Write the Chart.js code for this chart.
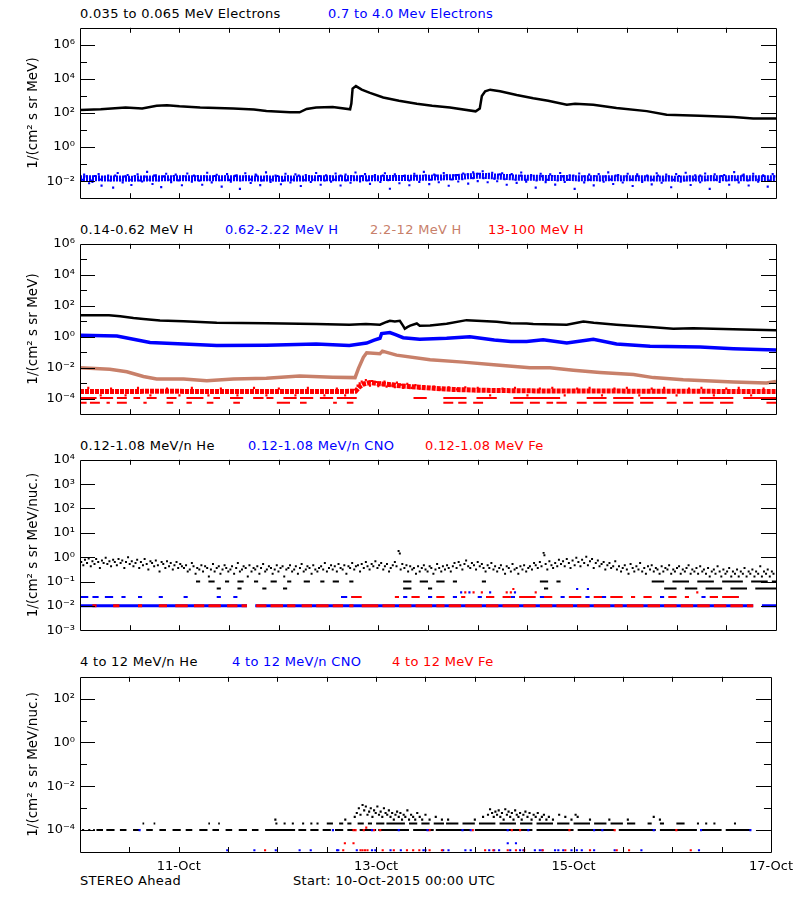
<!DOCTYPE html>
<html><head><meta charset="utf-8">
<script src="https://cdn.jsdelivr.net/npm/chart.js@4"></script>
<style>
body{margin:0;background:#fff;width:800px;height:900px;position:relative;overflow:hidden;font-family:"DejaVu Sans",sans-serif;}
.lbl{position:absolute;font-size:13px;line-height:13px;white-space:nowrap;letter-spacing:0.3px;color:#000;}
canvas{position:absolute;left:0;}
</style></head>
<body>
<div class="lbl" style="left:80px;top:7px">0.035 to 0.065 MeV Electrons</div>
<div class="lbl" style="left:328px;top:7px;color:#0000ff">0.7 to 4.0 Mev Electrons</div>
<div class="lbl" style="left:80px;top:223px">0.14-0.62 MeV H</div>
<div class="lbl" style="left:225px;top:223px;color:#0000ff">0.62-2.22 MeV H</div>
<div class="lbl" style="left:370px;top:223px;color:#c8806a">2.2-12 MeV H</div>
<div class="lbl" style="left:488px;top:223px;color:#ff0000">13-100 MeV H</div>
<div class="lbl" style="left:80px;top:439px">0.12-1.08 MeV/n He</div>
<div class="lbl" style="left:248px;top:439px;color:#0000ff">0.12-1.08 MeV/n CNO</div>
<div class="lbl" style="left:425px;top:439px;color:#ff0000">0.12-1.08 MeV Fe</div>
<div class="lbl" style="left:80px;top:655px">4 to 12 MeV/n He</div>
<div class="lbl" style="left:232px;top:655px;color:#0000ff">4 to 12 MeV/n CNO</div>
<div class="lbl" style="left:392px;top:655px;color:#ff0000">4 to 12 MeV Fe</div>
<div class="lbl" style="left:80px;top:874px">STEREO Ahead</div>
<div class="lbl" style="left:293px;top:874px">Start: 10-Oct-2015 00:00 UTC</div>

<canvas id="c1" width="800" height="196" style="top:15px"></canvas>
<canvas id="c2" width="800" height="196" style="top:231px"></canvas>
<canvas id="c3" width="800" height="196" style="top:447px"></canvas>
<canvas id="c4" width="800" height="228" style="top:664px"></canvas>

<script>
// ---------- axis data ----------
const HOUR_TICKS = [24, 72, 120, 168];
const DAY_LABELS = ['11-Oct', '13-Oct', '15-Oct', '17-Oct'];
const MINOR_HOURS = [12, 24, 36, 48, 60, 72, 84, 96, 108, 120, 132, 144, 156];
const P1_EXP = [-3, -2, -1, 0, 1, 2, 3, 4, 5, 6, 7];
const P2_EXP = [-5, -4, -3, -2, -1, 0, 1, 2, 3, 4, 5, 6];
const P3_EXP = [-3, -2, -1, 0, 1, 2, 3, 4];
const P4_EXP = [-5, -4, -3, -2, -1, 0, 1, 2, 3];

// ---------- panel 1 : electrons ----------
const eLoHours = [0,5,11,15,18.5,21,24,29,37,42,45,50.7,53,54.7,57,61,65.2,65.5,65.8,66.6,68,70,73.2,77,81.3,85,89.3,95.5,96.5,97,97.8,99,101.4,105.4,109.4,113,117.5,119.5,123.9,129.5,136.8,141.6,149.6,157.7,162.5,168];
const eLoFlux  = [148,166,209,182,269,288,245,209,182,158,129,110,110,174,209,224,166,355,2700,3800,2340,1510,813,525,347,263,209,125,182,1000,1900,2340,1900,1150,740,525,302,347,302,195,129,78,68,58,47,47];
const eHiCoreHours = [0,12,24,36,48,60,72,84,90,96,100,106,120,132,144,156,168];
const eHiCoreFlux  = [.015,.014,.015,.015,.014,.015,.015,.016,.017,.021,.019,.016,.015,.015,.014,.015,.015];
const eHiEdge = [[0.6,.012],[1.6,.019],[2.7,.011],[3.6,.02],[4.9,.0125],[6,.018],[7.3,.011],[8.5,.021],[9.7,.0115],[10.9,.019],[12,.012],[13.2,.02],[14.4,.011],[15.6,.0185],[16.8,.0118],[17.9,.021],[19,.011],[20.2,.019],[21.4,.012],[22.6,.02],[23.8,.0112],[25,.0195],[26.3,.012],[27.5,.021],[28.8,.0108],[30,.019],[31.3,.0122],[32.5,.02],[33.7,.0114],[35,.0188],[36.2,.0118],[37.4,.0205],[38.7,.011],[40,.019],[41.3,.0125],[42.6,.021],[43.9,.0112],[45.1,.019],[46.4,.012],[47.7,.02],[49,.0108],[50.2,.0195],[51.5,.012],[52.8,.021],[54,.0115],[55.3,.019],[56.6,.012],[57.8,.02],[59.1,.011],[60.4,.0192],[61.6,.0122],[62.9,.021],[64.2,.0112],[65.5,.0198],[66.8,.012],[68,.02],[69.3,.011],[70.6,.019],[71.9,.0125],[73.1,.021],[74.4,.0115],[75.7,.0195],[77,.012],[78.2,.02],[79.5,.011],[80.8,.0205],[82.1,.0125],[83.4,.022],[84.6,.012],[85.9,.021],[87.2,.013],[88.5,.022],[89.7,.0125],[91,.023],[92.3,.013],[93.6,.025],[94.9,.015],[96.1,.027],[97.4,.015],[98.7,.027],[100,.014],[101.3,.025],[102.5,.013],[103.8,.023],[105.1,.012],[106.4,.021],[107.6,.0118],[108.9,.02],[110.2,.011],[111.5,.0195],[112.7,.012],[114,.02],[115.3,.011],[116.6,.019],[117.8,.0122],[119.1,.021],[120.4,.0112],[121.7,.0195],[122.9,.012],[124.2,.02],[125.5,.011],[126.8,.019],[128,.0125],[129.3,.021],[130.6,.0115],[131.9,.0195],[133.1,.012],[134.4,.02],[135.7,.011],[137,.019],[138.2,.0122],[139.5,.021],[140.8,.0112],[142.1,.0195],[143.3,.012],[144.6,.02],[145.9,.011],[147.2,.019],[148.4,.0125],[149.7,.021],[151,.0115],[152.3,.0195],[153.5,.012],[154.8,.02],[156.1,.011],[157.4,.019],[158.6,.0122],[159.9,.021],[161.2,.0112],[162.5,.0195],[163.7,.012],[165,.02],[166.3,.011],[167.6,.019]];
const eHiScatter = [[1,.024],[2.2,.0075],[3,.009],[4.5,.026],[5.2,.0055],[6.8,.021],[8,.0042],[9.1,.03],[10.3,.0085],[11.5,.023],[12.4,.006],[13.9,.025],[15,.0095],[16.2,.035],[17.5,.0068],[18.3,.022],[19.6,.0045],[20.8,.027],[22,.0088],[23.1,.024],[24.6,.0058],[25.9,.028],[27,.0092],[28.4,.02],[29.5,.0062],[30.7,.031],[31.8,.0085],[33,.0238],[34.2,.0048],[35.5,.026],[36.4,.0093],[37.8,.022],[38.6,.0035],[39.9,.029],[41.2,.0078],[42.4,.024],[43.5,.0059],[44.9,.033],[46,.009],[47.2,.021],[48.5,.0066],[49.6,.027],[50.8,.0083],[52,.025],[53.3,.0052],[54.5,.023],[55.7,.0089],[57,.03],[58.1,.0062],[59.4,.022],[60.6,.0094],[61.7,.028],[62.9,.0056],[64.1,.024],[65.3,.0081],[66.5,.032],[67.6,.0095],[68.8,.026],[70,.0069],[71.2,.023],[72.5,.009],[73.6,.029],[74.8,.0036],[76,.025],[77.1,.0076],[78.4,.021],[79.5,.0058],[80.7,.027],[81.9,.0091],[83,.035],[84.3,.0067],[85.5,.024],[86.6,.0087],[87.8,.03],[89,.0054],[90.2,.022],[91.3,.0095],[92.5,.028],[93.7,.0072],[94.9,.033],[96,.01],[97.2,.038],[98.4,.0086],[99.5,.031],[100.7,.0098],[101.9,.029],[103,.0062],[104.2,.026],[105.4,.0079],[106.5,.032],[107.7,.0092],[108.9,.023],[110,.0042],[111.2,.027],[112.4,.0088],[113.5,.025],[114.7,.0063],[115.9,.03],[117,.009],[118.2,.022],[119.4,.0035],[120.5,.028],[121.7,.0085],[122.9,.024],[124,.0057],[125.2,.026],[126.4,.0093],[127.5,.033],[128.7,.0068],[129.9,.023],[131,.0084],[132.2,.027],[133.4,.0052],[134.5,.025],[135.7,.0089],[136.9,.021],[138,.0065],[139.2,.029],[140.4,.0081],[141.5,.024],[142.7,.0044],[143.9,.026],[145,.0093],[146.2,.031],[147.4,.006],[148.5,.022],[149.7,.0087],[150.9,.028],[152,.0035],[153.2,.025],[154.4,.009],[155.5,.023],[156.7,.0062],[157.9,.034],[159,.0085],[160.2,.024],[161.4,.0056],[162.5,.027],[163.7,.0092],[164.9,.022],[166,.0048],[167.2,.026]];

// ---------- panel 2 : protons ----------
const hLoHours = [0,7,9.7,12.9,15.3,19.3,25,33,45,57,65,69,72.4,74,74.8,76,77.2,78,78.4,79,79.7,81.3,82,84.5,88.5,93.3,97,100.6,104,107.8,109.4,117.5,121.5,124,129.5,137.6,143.2,148,157.7,168];
const hLoFlux  = [24,24,21,16,14,11,10,8,7.4,6.7,6,6.7,6,9,10.7,9.5,10.7,5,3.3,4.2,5.2,7.2,5.2,5.3,6.8,11.8,10.5,9.3,7.5,7.2,6.7,6,9.7,8,6,4.2,3.3,3.6,3,2.6];
const hMidHours = [0,8.9,12.9,16.9,25,33,45,57,65,69.2,71,72.4,72.8,74.8,76,78,82,88.5,94.1,100,104,107.8,111.8,117.5,123.9,129.5,137.6,149.7,157.7,168];
const hMidFlux  = [1.27,1.1,.69,.43,.34,.27,.28,.34,.27,.39,.6,.8,1.6,1.86,1.4,.87,.69,.8,1.0,.62,.5,.49,.63,.39,.69,.34,.24,.22,.17,.14];
const hHiHours = [0,7.2,11.3,15.3,18.5,25,30.6,37,45,53,61,66.4,67.2,68.4,69.2,72.4,73,76.4,84.5,92.5,100.6,108.6,113.4,119.1,125.5,133.6,138.4,145.6,157.7,165.7,168];
const hHiFlux  = [.0098,.008,.0055,.0027,.0019,.00185,.00145,.00185,.0021,.0029,.00245,.0023,.0087,.047,.093,.081,.118,.065,.033,.023,.015,.01,.0098,.0069,.005,.0037,.0023,.00166,.0012,.00105,.0013];
const hTopCoreHours = [0,20,40,60,66.5,67.5,68.5,70,72,75,78,82,86,90,95,100,110,120,130,140,150,160,168];
const hTopCoreFlux  = [2.9e-4,3e-4,2.9e-4,2.9e-4,3e-4,6e-4,9e-4,1.1e-3,9.5e-4,8e-4,6.5e-4,5.5e-4,4.6e-4,4e-4,3.6e-4,3.4e-4,3.2e-4,3.1e-4,3.1e-4,3e-4,3e-4,2.9e-4,2.9e-4];
const hTopScatter = [[2,5e-4],[5,1.65e-4],[7.5,4.5e-4],[11,1.65e-4],[14,5e-4],[17,1.65e-4],[21,4.5e-4],[24,1.65e-4],[27,5e-4],[31,1.65e-4],[34,4.5e-4],[38,1.65e-4],[42,5e-4],[45,1.65e-4],[48,4.5e-4],[52,1.65e-4],[55,5e-4],[59,1.65e-4],[62,4.5e-4],[64,1.65e-4],[67,7e-4],[67.5,1e-3],[68,1.3e-3],[68.5,8e-4],[69,1.6e-3],[69.5,1.2e-3],[70,7e-4],[70.5,1.4e-3],[71,9e-4],[71.5,1.2e-3],[72,6.5e-4],[72.5,1.1e-3],[73,8e-4],[73.5,1.3e-3],[74,6e-4],[74.5,1e-3],[75,7e-4],[75.5,9e-4],[76,5.5e-4],[76.5,1.1e-3],[77,6e-4],[77.5,8e-4],[78,5e-4],[79,9e-4],[80,5e-4],[81,7.5e-4],[82,4.5e-4],[83,6.5e-4],[84,4.5e-4],[85.5,6e-4],[87,4e-4],[89,5.5e-4],[91,4e-4],[93,5.5e-4],[96,5e-4],[99,1.65e-4],[102,4.5e-4],[105,5e-4],[108,1.65e-4],[111,4.5e-4],[114,5e-4],[117,1.65e-4],[120,4.5e-4],[123,5e-4],[126,1.65e-4],[129,4.5e-4],[132,5e-4],[135,1.65e-4],[138,4.5e-4],[141,5e-4],[144,1.65e-4],[147,4.5e-4],[150,5e-4],[153,1.65e-4],[156,4.5e-4],[159,5e-4],[162,1.65e-4],[165,4.5e-4]];
const hTopLevel2 = 1.1e-4;
const hTopLevel2Runs = [[0.1,4],[4.8,8],[8.9,11.3],[12.9,14.5],[16.1,18.5],[20.9,23.3],[25.7,29.8],[32.2,33.8],[36.2,39.4],[41.8,44.3],[45,46.7],[49.1,52.3],[53.1,56.3],[57.9,61.1],[62,66.8],[80.5,83.7],[87.7,93.3],[95.7,100.6],[104.6,115.9],[122.3,127.1],[128.7,133.6],[135.2,141.6],[149.6,157.7],[160.1,168]];
const hTopLevel1 = 5.5e-5;
const hTopLevel1Runs = [[0.1,1.6],[2.4,4.8],[6.4,7.2],[8.9,11.3],[15.3,16.1],[20.9,22.5],[25.7,27],[30.6,32.2],[37,38.6],[47.5,50.7],[53.1,54.7],[61.1,62],[64.4,66],[87.7,90.1],[91.3,93.3],[94.9,97.3],[103.8,107],[108.6,111],[112.6,114.2],[115,117.5],[119.9,122.3],[123.9,127.1],[128.7,133.6],[135.2,138.4],[141.6,144],[145.6,148],[149.6,152.9],[154.5,157.7],[165.7,168]];

// ---------- panel 3 : 0.12-1.08 MeV/n ions ----------
const heLowPts = [[0.3,.63],[0.8,.47],[1.2,.78],[1.7,.57],[2.1,.89],[2.6,.42],[3,.68],[3.5,.52],[3.9,.84],[4.4,.63],[4.8,.36],[5.3,.73],[5.7,.57],[6.2,.94],[6.6,.52],[7.1,.68],[7.5,.42],[8,.78],[8.4,.63],[8.9,.47],[9.3,.84],[9.8,.57],[10.2,.73],[10.7,.36],[11.1,.63],[11.6,.99],[12,.52],
[12.5,.68],[12.9,.42],[13.4,.57],[13.8,.78],[14.3,.36],[14.7,.63],[15.2,.47],[15.6,.84],[16.1,.52],[16.5,.31],[17,.68],[17.4,.57],[17.9,.42],[18.3,.73],[18.8,.47],[19.2,.26],[19.7,.63],[20.1,.52],[20.6,.36],[21,.68],[21.5,.42],[21.9,.57],[22.4,.31],[22.8,.47],[23.3,.63],[23.7,.36],[24.2,.52],[24.6,.42],
[25.1,.36],[25.6,.47],[26,.26],[26.5,.31],[27,.57],[27.4,.42],[27.9,.21],[28.3,.36],[28.8,.31],[29.3,.47],[29.7,.26],[30.2,.42],[30.7,.36],[31.1,.16],[31.6,.31],[32.1,.52],[32.5,.26],[33,.36],[33.5,.42],[33.9,.21],[34.4,.31],[34.9,.47],[35.3,.36],[35.8,.26],[36.3,.31],[36.7,.42],[37.2,.21],[37.7,.36],[38.1,.57],[38.6,.26],[39.1,.31],[39.5,.42],[40,.36],[40.5,.16],[40.9,.47],[41.4,.26],[41.9,.36],[42.3,.31],[42.8,.42],[43.3,.21],[43.7,.36],[44.2,.52],[44.7,.26],[45.1,.31],[45.6,.42],[46.1,.36],[46.5,.21],[47,.31],[47.5,.47],[47.9,.26],[48.4,.36],[48.9,.42],[49.3,.16],[49.8,.31],[50.3,.36],[50.7,.47],[51.2,.26],[51.7,.31],[52.1,.42],[52.6,.21],[53.1,.36],[53.5,.52],[54,.26],[54.5,.31],[54.9,.42],[55.4,.36],[55.9,.21],[56.3,.47],[56.8,.31],[57.3,.26],[57.7,.36],[58.2,.42],[58.7,.31],[59.1,.57],[59.6,.26],
[60.1,.36],[60.6,.47],[61,.31],[61.5,.42],[62,.26],[62.4,.52],[62.9,.36],[63.4,.31],[63.8,.47],[64.3,.21],[64.8,.42],[65.2,.36],[65.7,.57],[66.2,.31],[66.6,.42],[67.1,.47],[67.6,.26],[68,.52],[68.5,.36],[69,.63],[69.4,.42],
[69.9,.31],[70.4,.52],[70.8,.42],[71.3,.68],[71.8,.36],[72.2,.47],[72.7,.57],[73.2,.31],[73.6,.42],[74.1,.52],[74.6,.26],[75,.36],[75.5,.47],[76,.63],[76.4,.42],[76.9,1.8],[77.2,1.4],[77.4,.31],[77.8,.52],[78.3,.36],[78.8,.47],[79.2,.26],[79.7,.42],
[80.2,.31],[80.6,.36],[81.1,.21],[81.6,.42],[82,.26],[82.5,.36],[83,.47],[83.4,.31],[83.9,.26],[84.4,.42],[84.8,.36],[85.3,.21],[85.8,.31],[86.2,.52],[86.7,.36],[87.2,.26],[87.6,.42],[88.1,.31],[88.6,.47],[89,.36],[89.5,.26],
[90,.42],[90.4,.57],[90.9,.36],[91.4,.63],[91.8,.47],[92.3,.31],[92.8,.52],[93.2,.73],[93.7,.42],[94.2,.36],[94.6,.57],[95.1,.47],[95.6,.31],[96,.63],[96.5,.42],[97,.52],[97.4,.36],[97.9,.26],[98.4,.47],[98.8,.36],[99.3,.57],[99.8,.31],
[100.2,.42],[100.7,.26],[101.2,.36],[101.6,.47],[102.1,.31],[102.6,.21],[103,.42],[103.5,.36],[104,.26],[104.4,.52],[104.9,.31],[105.4,.36],[105.8,.21],[106.3,.42],[106.8,.31],[107.2,.47],[107.7,.26],[108.2,.36],[108.6,.42],[109.1,.31],[109.6,.57],
[110,.47],[110.5,.36],[111,.63],[111.4,.42],[111.9,1.5],[112.1,1.2],[112.4,.52],[112.8,.31],[113.3,.68],[113.8,.47],[114.2,.36],[114.7,.57],[115.2,.42],[115.6,.78],
[116.1,.52],[116.6,.68],[117,.42],[117.5,.84],[118,.57],[118.4,.36],[118.9,.73],[119.4,.47],[119.8,.94],[120.3,.63],[120.8,.42],[121.2,.78],[121.7,.57],[122.2,1.05],[122.6,.47],[123.1,.68],[123.6,.84],[124,.36],[124.5,.57],[125,.73],[125.4,.42],[125.9,.52],[126.4,.63],[126.8,.31],[127.3,.47],[127.8,.57],[128.2,.36],[128.7,.42],[129.2,.68],[129.6,.31],
[130.1,.42],[130.6,.26],[131,.36],[131.5,.47],[132,.31],[132.4,.21],[132.9,.52],[133.4,.36],[133.8,.26],[134.3,.42],[134.8,.31],[135.2,.57],[135.7,.26],[136.2,.36],[136.6,.21],[137.1,.42],[137.6,.31],[138,.47],[138.5,.26],[139,.36],[139.4,.31],[139.9,.21],[140.4,.42],[140.8,.26],[141.3,.36],[141.8,.31],[142.2,.47],[142.7,.21],[143.2,.31],[143.6,.26],[144.1,.36],[144.6,.42],[145,.21],[145.5,.31],[146,.26],[146.4,.36],[146.9,.47],[147.4,.21],[147.8,.31],[148.3,.26],[148.8,.36],[149.2,.21],[149.7,.42],
[150.2,.26],[150.6,.31],[151.1,.21],[151.6,.36],[152,.16],[152.5,.26],[153,.31],[153.4,.21],[153.9,.42],[154.4,.26],[154.8,.16],[155.3,.31],[155.8,.21],[156.2,.26],[156.7,.36],[157.2,.16],[157.6,.26],[158.1,.21],[158.6,.31],[159,.16],[159.5,.26],[160,.21],[160.4,.36],[160.9,.16],[161.4,.26],[161.8,.21],[162.3,.31],[162.8,.16],[163.2,.26],[163.7,.21],[164.2,.42],[164.6,.16],[165.1,.26],[165.6,.21],[166,.31],[166.5,.16],[167,.26],[167.4,.21]];
const heLowL2 = 0.1;
const heLowL2Runs = [[28,29],[31,32.5],[35,36],[38,39.5],[42,43],[46,47.5],[50,51],[54,55.5],[58,59],[61,62.5],[65,66],[78,80],[82,84],[86,88],[90,91],[97,98],[111,113],[115,116],[138,141],[143,147],[149,153],[155,160],[162,166],[167,168]];
const heLowL1 = 0.052;
const heLowL1Runs = [[33,34],[38,39],[44,45],[49,50],[78,80],[84,85],[112,113],[141,144],[146,149],[151,155],[157,161],[163,168]];
const ionLowBase = 0.01;
const cnoLowBaseRuns = [[0,40.3],[42.3,162.5],[164.6,168]];
const feLowBaseRuns = [[3,4],[8,9.5],[14,15],[19,21],[23,26],[27.5,30],[31,34],[35.5,38],[39,40.3],[42.5,45],[46,49],[50,52],[53.5,56],[57,60],[61,63.5],[65,66],[68,72],[73,76],[77,80],[81,85],[86,88],[89,92],[93,97],[98,101],[102,106],[107,110],[111,114],[115,119],[120,123],[124,128],[129,131],[132,136],[137,140],[141,144],[145,148],[149,152],[153,156],[157,160],[161,162.5]];
const ionLowL2 = 0.023;
const cnoLowL2Runs = [[0,2],[3,4.5],[6,8],[10,11],[14,15],[19,20],[25,26],[33,34],[37,38],[63,64.5],[65.5,66.5],[78,79],[84,85],[90,91],[96,97],[104,105],[111,112],[116,117],[122,123],[126,127],[140,141],[150,151],[158,159]];
const feLowL2Runs = [[65.5,68],[76,77],[80,82],[86,88],[92,93],[98,100],[102,104],[106,110],[112,114],[118,121],[124,126],[128,131],[133,134],[136,138],[142,144],[146,147],[152,154],[155,159]];
const feLowPts = [[93,.036],[95,.036],[97,.036],[103,.036],[104,.036],[104.6,.049],[110,.036],[149,.036]];
const cnoLowPts = [[92,.036],[94,.036],[99,.036],[105,.036],[120,.049],[122.6,.049]];

// ---------- panel 4 : 4-12 MeV/n ions ----------
const heHiL1 = 1e-4;
const heHiL1Runs = [[0.5,1],[2,2.5],[3.2,3.6],[4,5.6],[6.4,8.4],[9.7,11.3],[12.9,14.5],[16.1,17.7],[19.3,20.9],[22.5,24.5],[25.7,27.3],[29,31],[32.2,33.8],[35.4,37],[38.6,40.6],[41.8,43.4],[45,52.3],[53.1,55],[56,58],[59,61],[62,64],[65,67],[68,72],[72.5,80],[81,86],[86.5,95],[96,110],[111,120],[121,130],[131,140],[141,150],[151,156],[157,163]];
const heHiL2 = 2e-4;
const heHiL2Runs = [[15.2,15.6],[17.9,18.3],[31.2,31.6],[33.6,34],[47.5,48],[49.5,50],[51.5,52],[54,54.5],[56,56.5],[57.5,58],[60,61.5],[63,64],[65,66],[67.5,69],[70,71],[72,74],[74.5,79],[80,82],[83,85],[86,88.5],[89,92],[93,96],[97,101],[102,106],[107,110],[111,115],[116,119],[120,124],[125,128],[129,132],[133,135],[138,139],[141,142],[145,147],[150,150.5],[152,152.5],[154,154.5],[159,159.5]];
const heHiPts = [[47.5,3e-4],[64.5,3e-4],[66.8,4e-4],[67.3,6e-4],[67.8,1e-3],[68.2,5e-4],[68.7,1.4e-3],[69.1,8e-4],[69.5,1.2e-3],[69.9,5e-4],[70.3,7e-4],[70.7,1e-3],[71.1,4e-4],[71.5,8e-4],[71.9,6e-4],[72.3,1.2e-3],[72.7,5e-4],[73.1,7e-4],[73.5,4e-4],[73.9,1e-3],[74.3,6e-4],[74.7,5e-4],[75.1,8e-4],[75.5,4e-4],[75.9,6e-4],[76.3,3e-4],[76.7,5e-4],[77.1,7e-4],[77.5,4e-4],[77.9,6e-4],[78.3,3e-4],[78.7,5e-4],[79.1,4e-4],[79.6,8e-4],[80,3e-4],[80.5,5e-4],[81,4e-4],[81.5,3e-4],[82,6e-4],[82.6,4e-4],[83.2,3e-4],[84,5e-4],[85,3e-4],[86.5,4e-4],[88,3e-4],[89.5,3e-4],
[96,3e-4],[98,4e-4],[99.2,5e-4],[99.7,9e-4],[100.2,6e-4],[100.6,4e-4],[101,7e-4],[101.4,5e-4],[101.8,8e-4],[102.2,4e-4],[102.6,6e-4],[103,3e-4],[103.4,9e-4],[103.8,5e-4],[104.2,7e-4],[104.6,4e-4],[105,6e-4],[105.4,3e-4],[105.8,8e-4],[106.2,5e-4],[106.6,4e-4],[107,6e-4],[107.4,3e-4],[107.8,5e-4],[108.3,7e-4],[108.8,4e-4],[109.3,6e-4],[109.8,3e-4],[110.3,5e-4],[110.8,4e-4],[111.3,6e-4],[111.8,3e-4],[112.3,4e-4],[112.8,5e-4],[113.4,3e-4],[114,4e-4],[115,3e-4],[116.5,5e-4],[118,4e-4],[119.5,3e-4],[120.5,5e-4],[121,4e-4],[124,3e-4],[128.7,3e-4],[133.2,3e-4],[139.5,4e-4],[141,3e-4]];
const cnoHiOnL1Hours = [14.5,61.5,71,77.5,84.5,93,95,104,109,125,127,139.5,151,163];
const feHiOnL1Hours = [66.5,67,69,71.5,73,85,95.5,105,107,119,130,145];
const ionHiFloor = 1.2e-5;
const cnoHiFloorHours = [35.8,42.4,47.6,53.4,56.1,62.5,62.8,67.3,71,71.8,75.5,78,83.5,84,88.3,89.6,93.7,95,99.5,100.7,101.9,104.6,107,107.8,110.6,111.8,112.4,115.5,116.3,117.5,119.5,120.8,122,125,130,136.5,150.5];
const feHiFloorHours = [45,64,68.2,68.7,69.3,69.9,73.6,76.3,79.5,81,82.5,85,88,98.5,100.5,104,106,108,112.5,118,124,130.5,133.5,148.5];
const cnoHiMid = [[104,2.5e-5],[106,2.5e-5]];
const feHiMid = [[64.4,2.5e-5],[66.5,2.5e-5],[69.6,1.3e-4]];

// ---------- helpers ----------
const BLACK = '#000000', BLUE = '#0000ff', RED = '#ff0000', BROWN = '#c8806a';
const SUP = {'-':'\u207B','0':'\u2070','1':'\u00B9','2':'\u00B2','3':'\u00B3','4':'\u2074','5':'\u2075','6':'\u2076','7':'\u2077','8':'\u2078','9':'\u2079'};
function pow10Label(e) { return '10' + String(e).split('').map(c => SUP[c]).join(''); }
function xy(hours, vals) { return hours.map((h, i) => ({x: h, y: vals[i]})); }
function pairs(list) { return list.map(p => ({x: p[0], y: p[1]})); }
function level(hours, v) { return hours.map(h => ({x: h, y: v})); }
function runs(list, v) {
  const d = [];
  list.forEach(r => { d.push({x: r[0], y: v}, {x: r[1], y: v}, {x: r[1], y: null}); });
  return d;
}
function lineDs(data, color, width, order, dash) {
  return {data, showLine: true, borderColor: color, borderWidth: width, borderDash: dash || [], pointRadius: 0, pointHoverRadius: 0, tension: 0, spanGaps: false, borderCapStyle: 'butt', order};
}
function dotDs(data, color, r, order) {
  return {data, showLine: false, pointStyle: 'rect', pointRadius: r, pointHoverRadius: r, borderWidth: 0, backgroundColor: color, order};
}

const framePlugin = {
  id: 'frame',
  afterDatasetsDraw(chart, args, opts) {
    const {ctx, chartArea: ca, scales} = chart;
    const x = scales.x, y = scales.y;
    ctx.save();
    ctx.strokeStyle = '#000';
    ctx.lineWidth = 1;
    ctx.beginPath();
    ctx.rect(Math.round(ca.left) + 0.5, Math.round(ca.top) + 0.5, Math.round(ca.right - ca.left), Math.round(ca.bottom - ca.top));
    opts.exps.forEach((e, i) => {
      if (i === 0 || i === opts.exps.length - 1) return;
      const py = Math.round(y.getPixelForValue(Math.pow(10, e))) + 0.5;
      const len = (opts.every === 1 || e % 2 === 0) ? 15 : 7;
      ctx.moveTo(ca.left, py); ctx.lineTo(ca.left + len, py);
      ctx.moveTo(ca.right, py); ctx.lineTo(ca.right - len, py);
    });
    MINOR_HOURS.forEach(h => {
      const px = Math.round(x.getPixelForValue(h)) + 0.5;
      ctx.moveTo(px, ca.top); ctx.lineTo(px, ca.top + 5);
      ctx.moveTo(px, ca.bottom); ctx.lineTo(px, ca.bottom - 5);
    });
    ctx.stroke();
    ctx.restore();
  }
};

const FONT = {family: 'DejaVu Sans', size: 13};
const TITLE_FONT = {family: 'DejaVu Sans', size: 13.5};

function makePanel(id, cfg) {
  new Chart(document.getElementById(id), {
    type: 'scatter',
    data: {datasets: cfg.datasets},
    options: {
      responsive: false, animation: false, devicePixelRatio: 1,
      layout: {padding: {left: 0, right: 24, top: 8, bottom: cfg.showX ? 0 : 8}},
      plugins: {legend: {display: false}, tooltip: {enabled: false}, frame: {exps: cfg.exps, every: cfg.every}},
      scales: {
        x: {
          type: 'linear', min: 0, max: 168,
          grid: {display: false, drawTicks: false}, border: {display: false},
          ticks: {display: cfg.showX, autoSkip: false, maxRotation: 0, padding: 7, color: '#000', font: FONT,
            callback: v => { const i = HOUR_TICKS.indexOf(v); return i >= 0 ? DAY_LABELS[i] : ''; }},
          afterBuildTicks: s => { s.ticks = HOUR_TICKS.map(v => ({value: v})); },
          afterFit: s => { s.height = cfg.showX ? 40 : 0; }
        },
        y: {
          type: 'logarithmic', min: Math.pow(10, cfg.exps[0]), max: Math.pow(10, cfg.exps[cfg.exps.length - 1]),
          grid: {display: false, drawTicks: false}, border: {display: false},
          ticks: {autoSkip: false, padding: 5, color: '#000', font: FONT,
            callback: v => { const e = Math.round(Math.log10(v)); return (cfg.every === 1 || e % 2 === 0) ? pow10Label(e) : ''; }},
          afterBuildTicks: s => { s.ticks = cfg.exps.map(e => ({value: Math.pow(10, e)})); },
          afterFit: s => { s.width = 80; },
          title: {display: true, text: cfg.ytitle, color: '#000', font: TITLE_FONT, padding: {top: 25, bottom: 0}}
        }
      }
    },
    plugins: [framePlugin]
  });
}

makePanel('c1', {
  exps: P1_EXP, every: 2, showX: false, ytitle: '1/(cm\u00B2 s sr MeV)',
  datasets: [
    lineDs(xy(eLoHours, eLoFlux), BLACK, 2.5, 1),
    dotDs(pairs(eHiScatter), BLUE, 1.5, 2),
    dotDs(pairs(eHiEdge), BLUE, 1.5, 3),
    lineDs(xy(eHiCoreHours, eHiCoreFlux), BLUE, 6, 4, [2, 1])
  ]
});

makePanel('c2', {
  exps: P2_EXP, every: 2, showX: false, ytitle: '1/(cm\u00B2 s sr MeV)',
  datasets: [
    lineDs(xy(hLoHours, hLoFlux), BLACK, 2.5, 1),
    lineDs(xy(hMidHours, hMidFlux), BLUE, 3.5, 2),
    lineDs(xy(hHiHours, hHiFlux), BROWN, 3.5, 3),
    dotDs(pairs(hTopScatter), RED, 1.5, 4),
    lineDs(xy(hTopCoreHours, hTopCoreFlux), RED, 5, 5, [4, 1]),
    lineDs(runs(hTopLevel2Runs, hTopLevel2), RED, 2, 6),
    lineDs(runs(hTopLevel1Runs, hTopLevel1), RED, 2, 7)
  ]
});

makePanel('c3', {
  exps: P3_EXP, every: 1, showX: false, ytitle: '1/(cm\u00B2 s sr MeV/nuc.)',
  datasets: [
    dotDs(pairs(heLowPts), BLACK, 1.4, 1),
    lineDs(runs(heLowL2Runs, heLowL2), BLACK, 2, 2),
    lineDs(runs(heLowL1Runs, heLowL1), BLACK, 2, 3),
    lineDs(runs(feLowBaseRuns, ionLowBase), RED, 3, 4),
    lineDs(runs(cnoLowBaseRuns, ionLowBase), BLUE, 3, 5),
    lineDs(runs(feLowL2Runs, ionLowL2), RED, 2, 6),
    lineDs(runs(cnoLowL2Runs, ionLowL2), BLUE, 2, 7),
    dotDs(pairs(feLowPts), RED, 1.5, 8),
    dotDs(pairs(cnoLowPts), BLUE, 1.5, 9)
  ]
});

makePanel('c4', {
  exps: P4_EXP, every: 2, showX: true, ytitle: '1/(cm\u00B2 s sr MeV/nuc.)',
  datasets: [
    dotDs(level(cnoHiOnL1Hours, heHiL1), BLUE, 1.5, 1),
    dotDs(level(feHiOnL1Hours, heHiL1), RED, 1.5, 2),
    dotDs(pairs(heHiPts), BLACK, 1.5, 3),
    lineDs(runs(heHiL2Runs, heHiL2), BLACK, 2, 4),
    lineDs(runs(heHiL1Runs, heHiL1), BLACK, 2, 5),
    dotDs(level(feHiFloorHours, ionHiFloor), RED, 1.5, 6),
    dotDs(level(cnoHiFloorHours, ionHiFloor), BLUE, 1.5, 7),
    dotDs(pairs(cnoHiMid), BLUE, 1.5, 8),
    dotDs(pairs(feHiMid), RED, 1.5, 9)
  ]
});
</script>
</body></html>
